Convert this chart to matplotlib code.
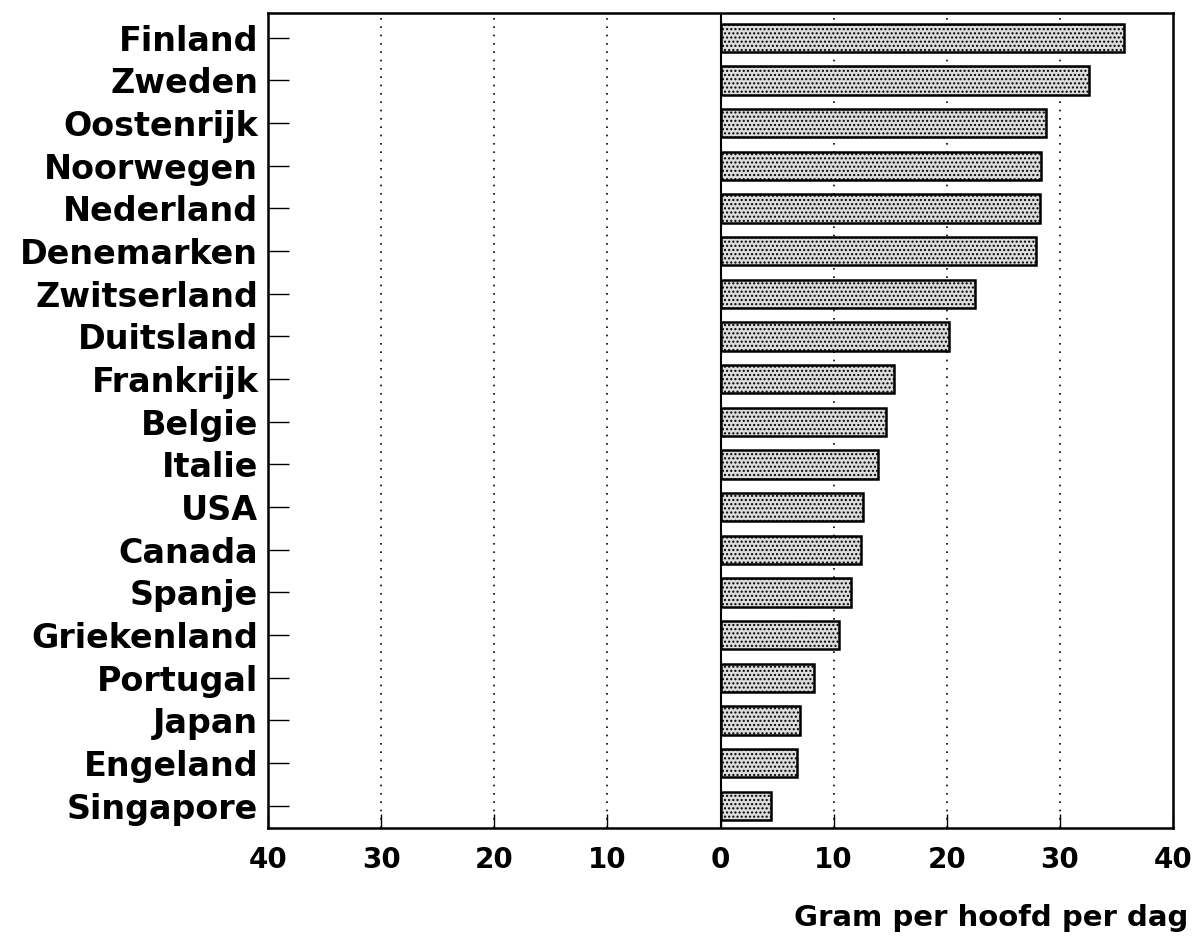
import numpy as np
import matplotlib.pyplot as plt

# Data
countries = [
    "Finland", "Zweden", "Oostenrijk", "Noorwegen", "Nederland",
    "Denemarken", "Zwitserland", "Duitsland", "Frankrijk", "Belgie",
    "Italie", "USA", "Canada", "Spanje", "Griekenland", "Portugal",
    "Japan", "Engeland", "Singapore",
]
grams = [35.7, 32.6, 28.8, 28.3, 28.2, 27.9, 22.5, 20.2, 15.3, 14.6,
         13.9, 12.6, 12.4, 11.5, 10.5, 8.3, 7.0, 6.8, 4.5]
xticks = [-40, -30, -20, -10, 0, 10, 20, 30, 40]
xticklabels = ["40", "30", "20", "10", "0", "10", "20", "30", "40"]

plt.rcParams['font.family'] = ['DejaVu Sans']
plt.rcParams['hatch.color'] = '#8c8c8c'
plt.rcParams['hatch.linewidth'] = 1.0

fig = plt.figure(figsize=(11.98, 9.5), dpi=100)
ax = fig.add_axes([268 / 1198, 1 - 828 / 950, 905 / 1198, 815 / 950])

y = np.arange(len(countries))

# dotted grid lines
for gx in [-30, -20, -10, 10, 20, 30]:
    ax.axvline(gx, color='black', linestyle=(0, (1, 4)), linewidth=1.2, zorder=1)
ax.axvline(0, color='black', linewidth=1.5, zorder=3)

ax.barh(y, grams, height=0.66, color='#dcdcdc', edgecolor='black',
        linewidth=1.8, hatch='....', zorder=2)

ax.set_xlim(-40, 40)
ax.set_ylim(len(countries) - 0.48, -0.58)

ax.set_yticks(y)
ax.set_yticklabels(countries, fontsize=24, fontweight='bold')
ax.set_xticks(xticks)
ax.set_xticklabels(xticklabels, fontsize=20, fontweight='bold')

ax.tick_params(axis='y', direction='in', length=15, width=1, pad=7)
ax.tick_params(axis='x', direction='in', length=10, width=1, pad=13)

for s in ax.spines.values():
    s.set_linewidth(1.8)

fig.text(1188 / 1198, 1 - 918 / 950, "Gram per hoofd per dag", ha='right',
         va='center', fontsize=21, fontweight='bold')

plt.savefig("out.png", dpi=100)
